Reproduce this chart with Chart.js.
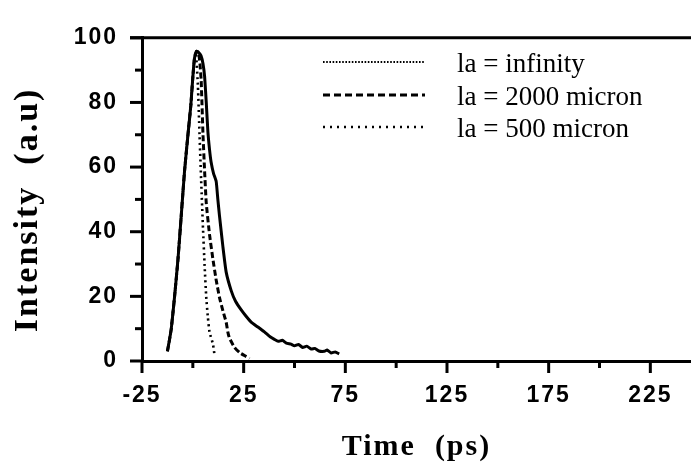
<!DOCTYPE html>
<html>
<head>
<meta charset="utf-8">
<script src="https://cdn.jsdelivr.net/npm/chart.js@4/dist/chart.umd.min.js"></script>
<style>
  html, body { margin: 0; padding: 0; background: #fff; }
  #wrap { width: 691px; height: 467px; position: relative; }
</style>
</head>
<body>
<div id="wrap"><canvas id="c" width="691" height="467"></canvas></div>
<script>
// ---- data ----
const seriesNames = ['la = infinity', 'la = 2000 micron', 'la = 500 micron'];

const timeInf = [-12.5, -11.5, -10.6, -9, -7.3, -5.7, -4.1, -2.4, -1, 0, 0.8, 1.8, 2.8, 4, 5, 5.8, 6.6, 7.4, 8.2, 9, 10.2, 11.5, 12.3, 13.1, 14.8, 16.4, 18.9, 21, 23.8, 26, 28.7, 32, 35.2, 38, 40.1, 42, 44, 46, 48.3, 50, 52, 54, 56, 58.2, 60, 62, 64.7, 66, 68, 70, 72];
const intInf  = [3, 6.5, 10, 19.8, 31.5, 45, 58.6, 70, 79, 87.8, 93.6, 95.8, 95.5, 94.5, 92, 88, 80, 71, 65.5, 61.5, 58, 55.5, 50, 45, 35.3, 27.5, 21.7, 18.5, 15.8, 14, 12, 10.5, 9, 7.5, 6.7, 6.1, 6.4, 5.5, 5.2, 4.7, 5.1, 4.2, 4.6, 3.7, 3.9, 3.1, 3.0, 3.4, 2.5, 2.8, 2.2];

const time2000 = [-12.5, -11.5, -10.6, -9, -7.3, -5.7, -4.1, -2.4, -1, 0, 0.8, 1.8, 2.8, 3.5, 4.1, 5, 5.8, 6.6, 8.2, 9.9, 11.5, 13.1, 14.8, 16.4, 17.2, 18, 20.5, 23, 25.4, 27.9];
const int2000  = [3, 6.5, 10, 19.8, 31.5, 45, 58.6, 70, 79, 87.8, 93.6, 95.8, 95.5, 92, 86.8, 70, 58.6, 48.9, 39.2, 31.4, 25, 19.7, 15.5, 12, 9, 7.1, 4.2, 2.6, 1.7, 0.8];

const time500 = [-12.5, -11.5, -10.6, -9, -7.3, -5.7, -4.1, -2.4, -1, 0, 0.8, 1.6, 2.5, 3.3, 4.1, 5, 5.8, 6.6, 7.4, 8.2, 9.9, 10.7];
const int500  = [3, 6.5, 10, 19.8, 31.5, 45, 58.6, 70, 79, 87.8, 93.6, 94.5, 85, 70, 55.7, 41, 29.4, 19.7, 13.5, 9, 5.2, 1.7];

const xMajorTicks = [-25, 25, 75, 125, 175, 225];
const xMinorTicks = [0, 50, 100, 150, 200];
const yMajorTicks = [0, 20, 40, 60, 80, 100];
const yMinorTicks = [10, 30, 50, 70, 90];

// ---- styles ----
const plotDash   = [[], [6, 3], [2, 3.5]];
const plotWidth  = [3, 3, 2.6];
const legendDash = [[1.6, 1.6], [7, 4], [2, 5]];
const legendWidth = [2.2, 3.2, 2.4];

function pts(xs, ys) { return xs.map((x, i) => ({ x: x, y: ys[i] })); }

const datasets = [
  { label: seriesNames[0], data: pts(timeInf, intInf) },
  { label: seriesNames[1], data: pts(time2000, int2000) },
  { label: seriesNames[2], data: pts(time500, int500) }
].map((d, i) => Object.assign(d, {
  borderColor: '#000', backgroundColor: '#000', borderWidth: plotWidth[i],
  borderDash: plotDash[i], pointRadius: 0, fill: false, tension: 0.15
}));

const framePlugin = {
  id: 'frame',
  beforeDraw(chart) { chart.ctx.letterSpacing = '2px'; },
  afterDraw(chart) {
    const ctx = chart.ctx, a = chart.chartArea;
    const xs = chart.scales.x, ys = chart.scales.y;
    ctx.save();
    ctx.letterSpacing = '0px';
    ctx.strokeStyle = '#000';
    ctx.lineCap = 'butt';
    ctx.lineWidth = 3;
    // top frame line
    ctx.beginPath(); ctx.moveTo(130, a.top); ctx.lineTo(chart.width, a.top); ctx.stroke();
    // y ticks (outside, left)
    yMajorTicks.forEach(v => { const p = ys.getPixelForValue(v); ctx.beginPath(); ctx.moveTo(a.left - 12, p); ctx.lineTo(a.left, p); ctx.stroke(); });
    yMinorTicks.forEach(v => { const p = ys.getPixelForValue(v); ctx.beginPath(); ctx.moveTo(a.left - 7, p); ctx.lineTo(a.left, p); ctx.stroke(); });
    // x ticks (outside, below)
    xMajorTicks.forEach(v => { const p = xs.getPixelForValue(v); ctx.beginPath(); ctx.moveTo(p, a.bottom); ctx.lineTo(p, a.bottom + 12); ctx.stroke(); });
    xMinorTicks.forEach(v => { const p = xs.getPixelForValue(v); ctx.beginPath(); ctx.moveTo(p, a.bottom); ctx.lineTo(p, a.bottom + 7); ctx.stroke(); });
    // legend
    const rowY = [62, 95, 127];
    chart.data.datasets.forEach((d, i) => {
      ctx.lineWidth = legendWidth[i];
      ctx.setLineDash(legendDash[i]);
      ctx.beginPath(); ctx.moveTo(323, rowY[i]); ctx.lineTo(425, rowY[i]); ctx.stroke();
      ctx.setLineDash([]);
      ctx.fillStyle = '#000';
      ctx.font = '27px "Liberation Serif"';
      ctx.textBaseline = 'middle';
      ctx.textAlign = 'left';
      ctx.fillText(d.label, 457, rowY[i] + 3);
    });
    ctx.restore();
  }
};

new Chart(document.getElementById('c'), {
  type: 'line',
  data: { datasets: datasets },
  options: {
    responsive: false,
    animation: false,
    events: [],
    layout: { padding: { top: 18, right: 0, bottom: 0, left: 0 } },
    plugins: { legend: { display: false }, tooltip: { enabled: false } },
    scales: {
      x: {
        type: 'linear', min: -25, max: 245,
        afterFit: s => { s.height = 106; },
        afterBuildTicks: s => { s.ticks = xMajorTicks.map(v => ({ value: v })); },
        grid: { display: false, drawTicks: false },
        border: { display: true, color: '#000', width: 3 },
        ticks: { color: '#000', padding: 21, maxRotation: 0, autoSkip: false,
                 font: { family: '"Liberation Sans"', size: 23, weight: 'bold' } },
        title: { display: true, text: 'Time  (ps)', color: '#000',
                 font: { family: '"Liberation Serif"', size: 30, weight: 'bold' },
                 padding: { top: 0, bottom: 2 } }
      },
      y: {
        min: 0, max: 100,
        afterFit: s => { s.width = 142; },
        afterBuildTicks: s => { s.ticks = yMajorTicks.map(v => ({ value: v })); },
        grid: { display: false, drawTicks: false },
        border: { display: true, color: '#000', width: 3 },
        ticks: { color: '#000', padding: 24,
                 font: { family: '"Liberation Sans"', size: 23, weight: 'bold' } },
        title: { display: true, text: 'Intensity  (a.u)  ', color: '#000',
                 font: { family: '"Liberation Serif"', size: 34, weight: 'bold' },
                 padding: { top: 8, bottom: 0 } }
      }
    }
  },
  plugins: [framePlugin]
});
</script>
</body>
</html>
